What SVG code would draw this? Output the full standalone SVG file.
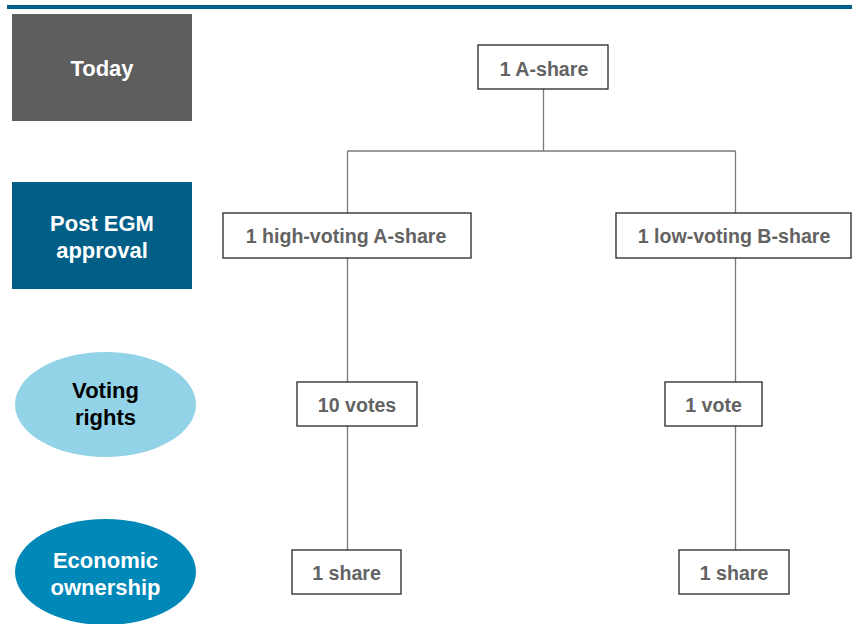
<svg xmlns="http://www.w3.org/2000/svg" width="852" height="624" viewBox="0 0 852 624">
<style>
.box{fill:#fff;stroke:#262626;stroke-width:1.3}
.bt{font-family:"Liberation Sans",Arial,sans-serif;font-weight:bold;font-size:19.6px;fill:#636363;text-anchor:middle}
.lt{font-family:"Liberation Sans",Arial,sans-serif;font-weight:bold;font-size:22px;fill:#fff;text-anchor:middle}
.con{stroke:#7a7a7a;stroke-width:1.3;fill:none}
</style>
<rect x="7" y="5" width="845" height="4" fill="#005f8a"/>
<g id="today"><rect x="12" y="14" width="180" height="107" fill="#5e5e5e"/><text class="lt" x="102" y="76">Today</text></g>
<g id="post-egm"><rect x="12" y="182" width="180" height="107" fill="#005e87"/><text class="lt" x="102" y="231">Post EGM</text><text class="lt" x="102" y="258">approval</text></g>
<g id="voting-rights"><ellipse cx="105.5" cy="404.5" rx="90.5" ry="52.5" fill="#93d3e8"/><text class="lt" x="105.5" y="397.5" style="fill:#000">Voting</text><text class="lt" x="105.5" y="425" style="fill:#000">rights</text></g>
<g id="economic-ownership"><ellipse cx="105.5" cy="572" rx="90.5" ry="53" fill="#0088b9"/><text class="lt" x="105.5" y="567.5">Economic</text><text class="lt" x="105.5" y="594.5">ownership</text></g>
<g id="connectors">
<path class="con" d="M543.5 89V151M347.5 151H735.5M347.5 151V213M735.5 151V213M347.5 258V382M735.5 258V382M347.5 426V550M735.5 426V550"/>
</g>
<g id="a-share"><rect class="box" x="478" y="45" width="130" height="44"/><text class="bt" x="544" y="75.5">1 A-share</text></g>
<g id="high-voting"><rect class="box" x="223" y="213" width="248" height="45"/><text class="bt" x="346" y="243">1 high-voting A-share</text></g>
<g id="low-voting"><rect class="box" x="616" y="213" width="235" height="45"/><text class="bt" x="734" y="243">1 low-voting B-share</text></g>
<g id="ten-votes"><rect class="box" x="297" y="382" width="120" height="44"/><text class="bt" x="357" y="412">10 votes</text></g>
<g id="one-vote"><rect class="box" x="665" y="382" width="97" height="44"/><text class="bt" x="713.5" y="412">1 vote</text></g>
<g id="share-left"><rect class="box" x="292" y="550" width="109" height="44"/><text class="bt" x="346.5" y="580">1 share</text></g>
<g id="share-right"><rect class="box" x="679" y="550" width="110" height="44"/><text class="bt" x="734" y="580">1 share</text></g>
</svg>
